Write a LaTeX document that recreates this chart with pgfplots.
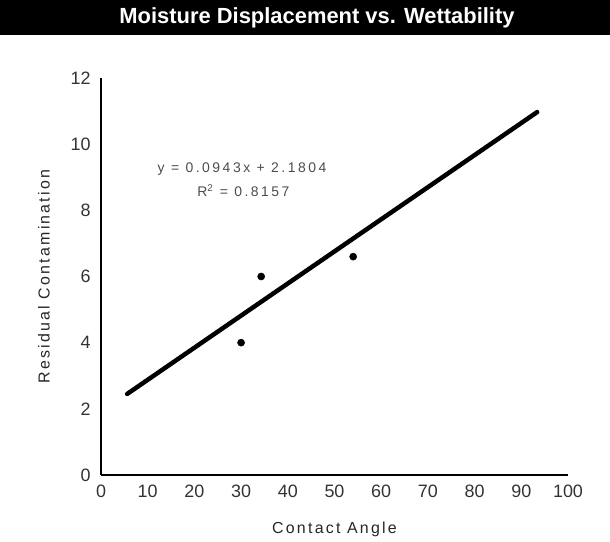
\documentclass[border=0pt]{standalone}
\usepackage{fontspec}
\setmainfont{Liberation Sans}
\usepackage{pgfplots}
\pgfplotsset{compat=1.18}
\newfontfamily\spaced[LetterSpace=14]{Liberation Sans}
\newfontfamily\eqfont[LetterSpace=18]{Liberation Sans}
\begin{document}
\begin{tikzpicture}
\path[use as bounding box] (-101bp,-67bp) rectangle (509bp,475bp);
\fill[black] (-101bp,440bp) rectangle (509bp,475bp);
\node[text=white, font=\bfseries\fontsize{22}{24}\selectfont] at (216bp,457bp) {Moisture Displacement vs. Wettability};
\begin{axis}[
  scale only axis,
  width=467bp, height=397bp,
  xmin=0, xmax=100, ymin=0, ymax=12,
  axis x line*=bottom, axis y line*=left,
  axis line style={black, line width=1.2pt, -},
  xtick={0,10,...,100}, ytick={0,2,...,12},
  major tick length=0pt,
  tick label style={font=\fontsize{18}{20}\selectfont, text=black!80},
  /pgf/number format/assume math mode=true,
  xticklabel style={yshift=-6bp},
  yticklabel style={xshift=-7bp},
  xlabel={\spaced Contact Angle},
  ylabel={\spaced Residual Contamination},
  xlabel style={font=\fontsize{16}{18}\selectfont, yshift=-18bp, text=black!85},
  ylabel style={font=\fontsize{16}{18}\selectfont, yshift=14bp, text=black!85},
  clip=false,
]
\addplot[black, line width=4.5pt, line cap=round] coordinates {(5.6,2.45) (93.4,10.97)};
\addplot[only marks, mark=*, mark size=3.6pt, black] coordinates {(30,4.0) (34.3,6.0) (54,6.6)};
\node[font=\eqfont\fontsize{14}{16}\selectfont, text=black!70] at (axis cs:30.2,9.24) {y = 0.0943x + 2.1804};
\node[font=\eqfont\fontsize{14}{16}\selectfont, text=black!70] at (axis cs:30.5,8.6) {R\textsuperscript{2} = 0.8157};
\end{axis}
\end{tikzpicture}
\end{document}
